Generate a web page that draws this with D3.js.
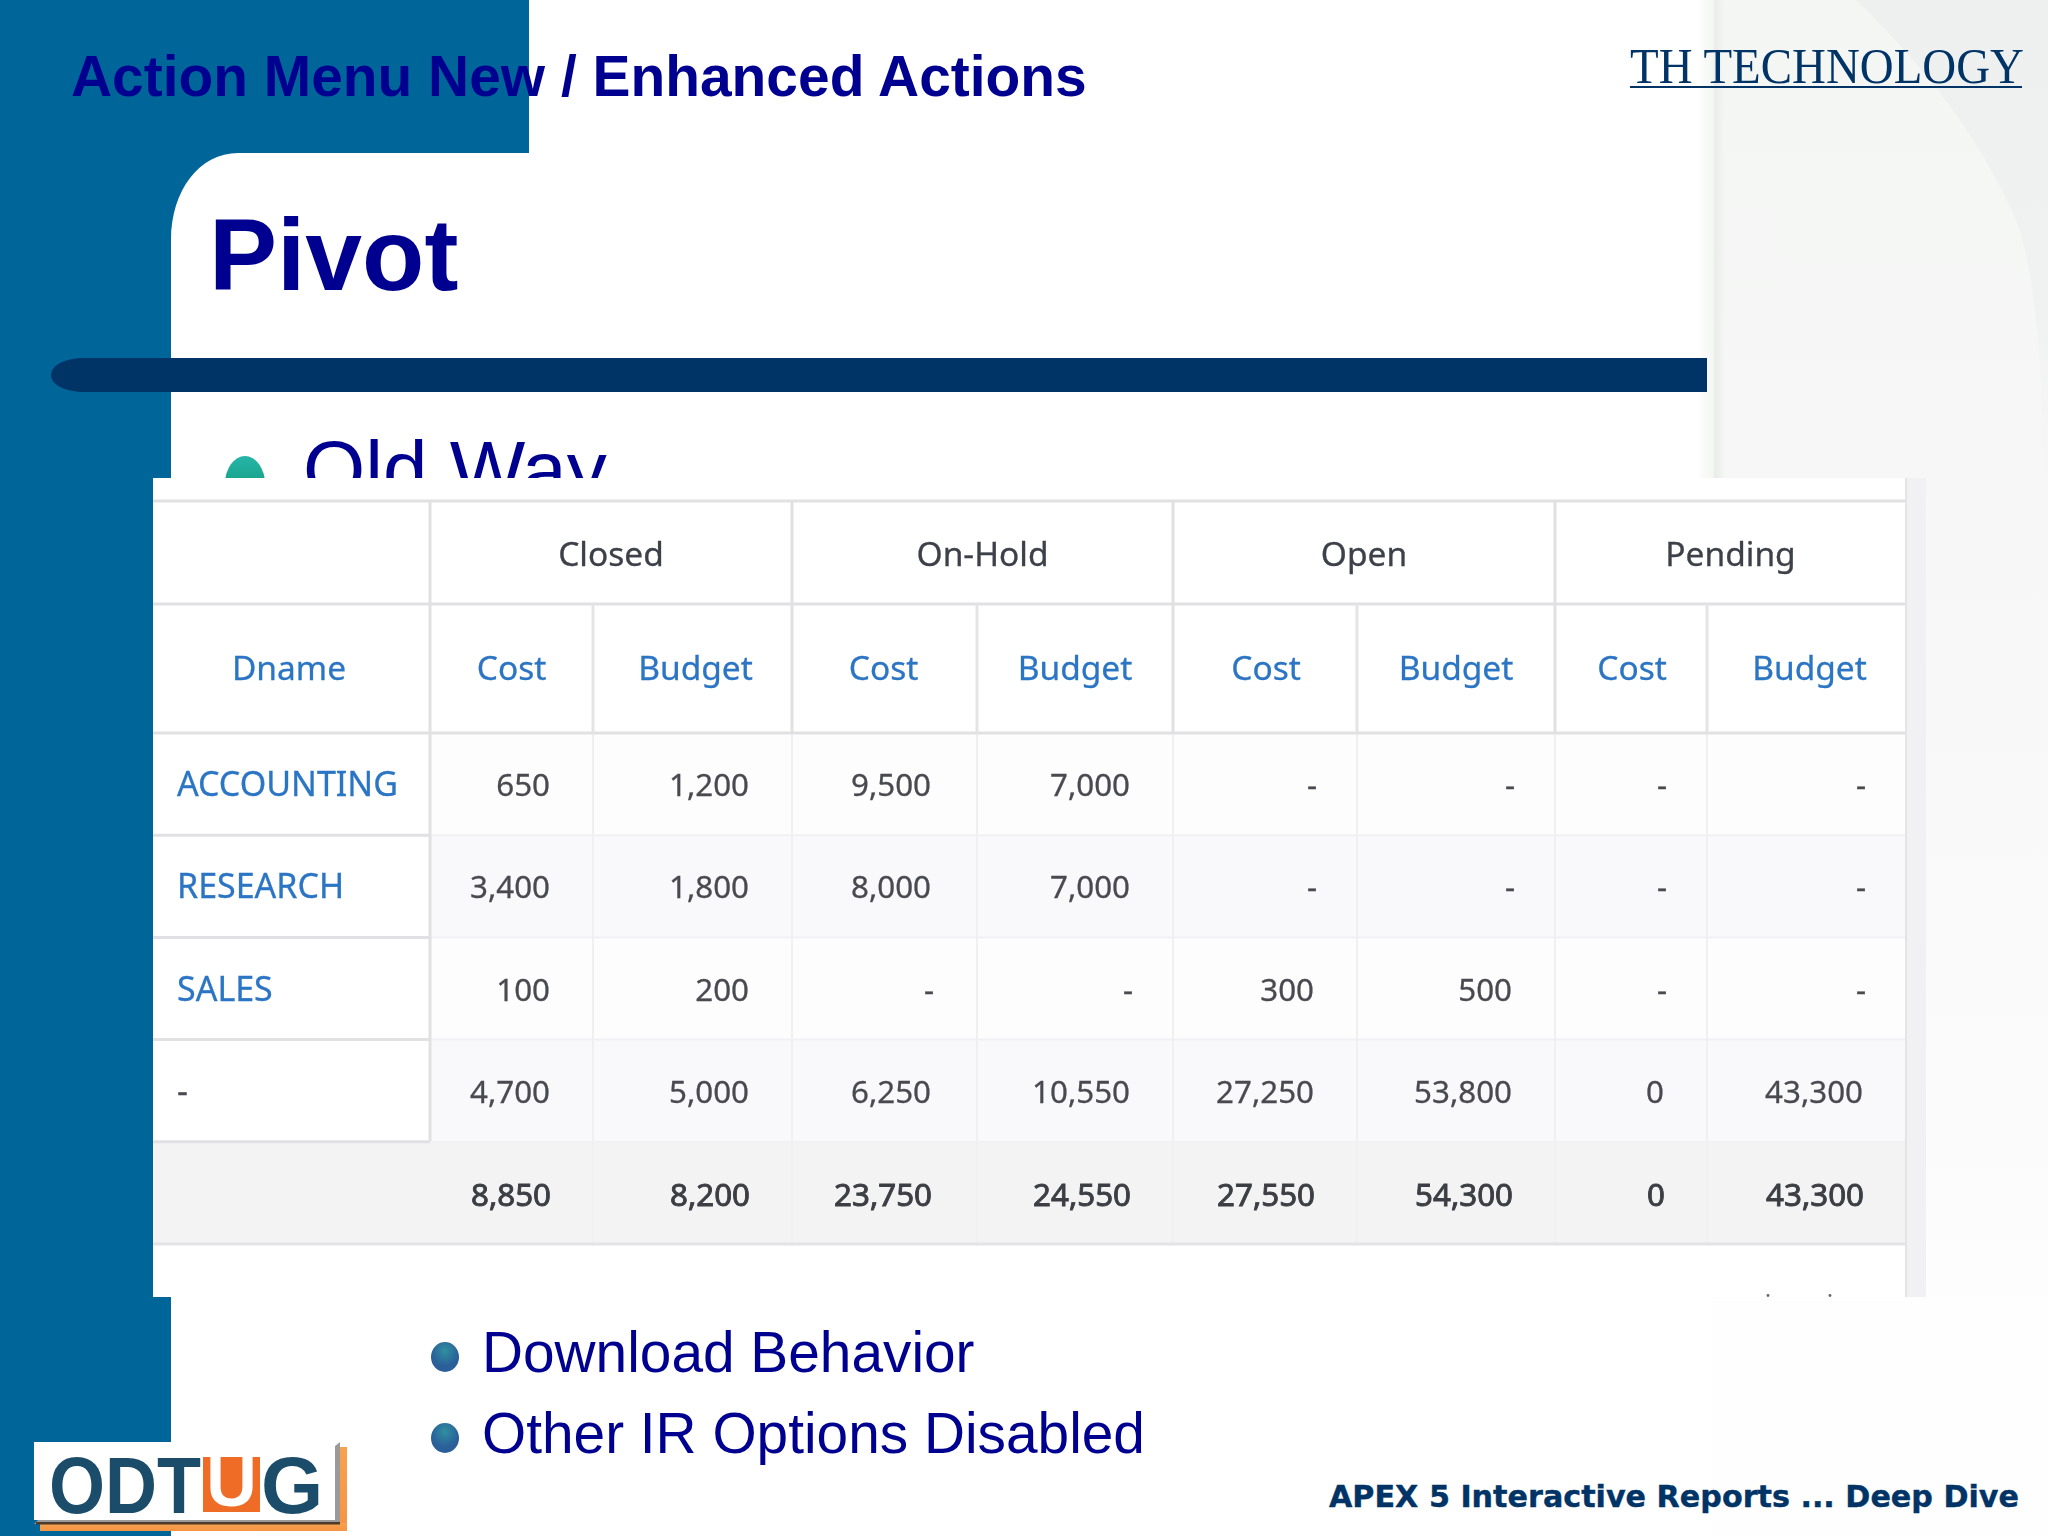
<!DOCTYPE html>
<html><head><meta charset="utf-8">
<script src="https://cdn.jsdelivr.net/npm/d3@7"></script>
<style>html,body{margin:0;padding:0;background:#fff;overflow:hidden}svg{display:block}</style>
</head><body><svg id="c" width="2048" height="1536" xmlns="http://www.w3.org/2000/svg"></svg>
<script>
const groups = ["Closed","On-Hold","Open","Pending"];
const measures = ["Cost","Budget"];
const departments = ["ACCOUNTING","RESEARCH","SALES","-"];
const closedCost    = [650,3400,100,4700];
const closedBudget  = [1200,1800,200,5000];
const onHoldCost    = [9500,8000,null,6250];
const onHoldBudget  = [7000,7000,null,10550];
const openCost      = [null,null,300,27250];
const openBudget    = [null,null,500,53800];
const pendingCost   = [null,null,null,0];
const pendingBudget = [null,null,null,43300];
const totals = [8850,8200,23750,24550,27550,54300,0,43300];
const title = "Action Menu New / Enhanced Actions";
const heading = "Pivot";
const bullets = ["Download Behavior","Other IR Options Disabled"];

const series = [closedCost,closedBudget,onHoldCost,onHoldBudget,openCost,openBudget,pendingCost,pendingBudget];
const svg = d3.select("#c");
const defs = svg.append("defs");
const BLUE="#006699", NAVY="#003366", TITLE="#000090", LINK="#2b74c4", CELL="#484a50";

function grad(id,stops,h){const g=defs.append("linearGradient").attr("id",id).attr("x1",0).attr("y1",0).attr("x2",h?1:0).attr("y2",h?0:1);
  stops.forEach(s=>g.append("stop").attr("offset",s[0]).attr("stop-color",s[1]).attr("stop-opacity",s[2]===undefined?1:s[2]));}
grad("bgV",[[0,"#f4f6f4"],[0.35,"#f6f7f6"],[0.8,"#fcfcfc"],[0.86,"#fefefe"],[1,"#fefefe"]]);
grad("arcV",[[0,"#eef0ef"],[0.6,"#f0f2f1"],[1,"#f5f6f5",0]]);
grad("fringe",[[0,"#fbfcfb"],[0.55,"#f4f6f4"],[0.62,"#e9ebe9"],[1,"#f4f6f4"]],true);
grad("orange",[[0,"#f7a24e"],[1,"#f59445"]]);
defs.append("filter").attr("id","soft").append("feGaussianBlur").attr("stdDeviation",0.6);
defs.append("clipPath").attr("id","clipTop").append("rect").attr("x",0).attr("y",0).attr("width",2048).attr("height",478);
const rg=defs.append("radialGradient").attr("id","ball").attr("cy",0.3);
rg.append("stop").attr("offset",0).attr("stop-color","#2f8f9e");rg.append("stop").attr("offset",1).attr("stop-color","#2a5f9a");
const rg2=defs.append("linearGradient").attr("id","gem").attr("x1",0).attr("x2",0).attr("y1",0).attr("y2",1);
rg2.append("stop").attr("offset",0).attr("stop-color","#25b5a8");rg2.append("stop").attr("offset",0.7).attr("stop-color","#139a7c");rg2.append("stop").attr("offset",1).attr("stop-color","#0d5a40");

// page background
svg.append("rect").attr("width",2048).attr("height",1536).attr("fill","#fff");
svg.append("rect").attr("x",1713).attr("y",0).attr("width",335).attr("height",1536).attr("fill","url(#bgV)");
svg.append("rect").attr("x",1700).attr("y",0).attr("width",24).attr("height",1297).attr("fill","url(#fringe)").attr("opacity",0.95);
svg.append("path").attr("d","M1856,0 Q1970,110 2018,225 Q2046,310 2042,520 L2048,520 L2048,0 Z").attr("fill","url(#arcV)");

// blue frame
svg.append("path").attr("fill",BLUE)
  .attr("d","M0,0 H529 V153 H238 C200,153 171,190 171,240 V1536 H0 Z");

// title bar
svg.append("path").attr("fill",NAVY).attr("d","M1707,358 V392 H85 C65,392 51,385 51,375 C51,365 65,358 85,358 Z");

// titles
svg.append("text").text(title).attr("x",71).attr("y",96).attr("font-family","Liberation Sans").attr("font-weight",700).attr("font-size",56.9).attr("fill",TITLE);
svg.append("text").text(heading).attr("x",209).attr("y",290).attr("font-family","Liberation Sans").attr("font-weight",700).attr("font-size",102).attr("fill",TITLE);

// TH TECHNOLOGY mark
svg.append("text").text("TH TECHNOLOGY").attr("transform","translate(1630,83) scale(0.92,1)").attr("font-family","Liberation Serif").attr("font-size",51).attr("fill",NAVY);
svg.append("rect").attr("x",1630).attr("y",86).attr("width",392).attr("height",2).attr("fill",NAVY);

// clipped "Old Way" bullet
const old=svg.append("g").attr("clip-path","url(#clipTop)");
old.append("ellipse").attr("cx",245).attr("cy",484).attr("rx",20).attr("ry",28).attr("fill","url(#gem)");
old.append("text").text("Old Way").attr("x",303).attr("y",497).attr("font-family","Liberation Sans").attr("font-size",80).attr("fill",TITLE);

// table panel
svg.append("rect").attr("x",153).attr("y",478).attr("width",1754).attr("height",819).attr("fill","#fff");
svg.append("rect").attr("x",1907).attr("y",478).attr("width",19).attr("height",819).attr("fill","#f1f1f3");

// scales: column edges and row bands
const colKeys=d3.range(9);
const xEdge=d3.scaleOrdinal().domain(colKeys).range([153,430,593,792,977,1173,1357,1555,1707]);
const xEnd=1906;
const edge=i=>i===9?xEnd:xEdge(i);
const yHead=d3.scaleOrdinal().domain(["group","measure","body"]).range([501,604,733]);
const yRow=d3.scaleBand().domain(d3.range(5)).range([733,1244]);
const fmt=d3.format(",");

const t=svg.append("g");
// row backgrounds
t.selectAll("rect.r").data(d3.range(5)).join("rect").attr("class","r")
 .attr("x",i=>i===4?edge(0):edge(1)).attr("width",i=>i===4?xEnd-edge(0):xEnd-edge(1))
 .attr("y",i=>yRow(i)).attr("height",yRow.bandwidth())
 .attr("fill",i=>i===4?"#f3f3f4":(i%2?"#f9f9fb":"#fdfdfe"));

const hline=(x1,x2,y,c,w)=>t.append("line").attr("x1",x1).attr("x2",x2).attr("y1",y).attr("y2",y).attr("stroke",c).attr("stroke-width",w);
const vline=(x,y1,y2,c,w)=>t.append("line").attr("x1",x).attr("x2",x).attr("y1",y1).attr("y2",y2).attr("stroke",c).attr("stroke-width",w);

// body grid
d3.range(1,5).forEach(i=>hline(edge(1),xEnd,yRow(i),"#f1f1f3",2));
d3.range(2,9).forEach(i=>vline(edge(i),733,1244,"#f0f0f3",2));
d3.range(1,5).forEach(i=>hline(edge(0),edge(1),yRow(i),"#e1e1e4",3));
// header grid
hline(edge(0),xEnd,yHead("group"),"#e1e1e4",3);
hline(edge(0),xEnd,yHead("measure"),"#e1e1e4",3);
hline(edge(0),xEnd,yHead("body"),"#e1e1e4",3);
hline(edge(0),xEnd,1244,"#e3e3e6",3);
[1,3,5,7].forEach(i=>vline(edge(i),501,733,"#e1e1e4",3));
[2,4,6,8].forEach(i=>vline(edge(i),604,733,"#e4e4e7",3));
vline(edge(1),733,1141,"#e1e1e4",3);
vline(xEnd,478,1297,"#e4e4e7",2);

// table text
const tx=svg.append("g").attr("font-family","Noto Sans").attr("filter","url(#soft)");
const mid=(a,b)=>(a+b)/2;
const labelSize=33.5, deptSize=34, numSize=31.3;
tx.selectAll("text.g").data(groups).join("text").attr("class","g").text(d=>d)
 .attr("x",(d,i)=>mid(edge(1+2*i),edge(3+2*i))).attr("y",566).attr("text-anchor","middle")
 .attr("font-size",labelSize).attr("fill","#3c4049").attr("stroke","#3c4049").attr("stroke-width",0.3);
tx.append("text").text("Dname").attr("x",289).attr("y",680).attr("text-anchor","middle").attr("font-size",labelSize).attr("fill",LINK).attr("stroke",LINK).attr("stroke-width",0.3);
const measureNudge=[0,3,-1,0,1,0,1,3];
const mh=d3.range(8).map(i=>({i,label:measures[i%2]}));
tx.selectAll("text.m").data(mh).join("text").attr("class","m").text(d=>d.label)
 .attr("x",d=>mid(edge(d.i+1),edge(d.i+2))+measureNudge[d.i]).attr("y",680).attr("text-anchor","middle")
 .attr("font-size",labelSize).attr("fill",LINK).attr("stroke",LINK).attr("stroke-width",0.3);
tx.selectAll("text.d").data(departments).join("text").attr("class","d").text(d=>d)
 .attr("x",177).attr("y",(d,i)=>yRow(i)+yRow.bandwidth()/2+12)
 .attr("font-size",deptSize).attr("fill",(d,i)=>i<3?LINK:CELL).attr("stroke",(d,i)=>i<3?LINK:CELL).attr("stroke-width",0.3);
const rightInset=[43,43,46,43,43,43,43,43];
series.forEach((vals,c)=>{
  tx.selectAll("text.c"+c).data(vals).join("text").attr("class","c"+c)
   .text(v=>v===null?"-":fmt(v))
   .attr("x",v=>edge(c+2)-rightInset[c]+(v===null?3:0)).attr("y",(v,i)=>yRow(i)+yRow.bandwidth()/2+12)
   .attr("text-anchor","end").attr("font-size",numSize).attr("fill",CELL).attr("stroke",CELL).attr("stroke-width",0.3);
});
tx.selectAll("text.tot").data(totals).join("text").attr("class","tot").text(fmt)
 .attr("x",(v,c)=>edge(c+2)-rightInset[c]+1).attr("y",yRow(4)+yRow.bandwidth()/2+13)
 .attr("text-anchor","end").attr("font-size",numSize).attr("fill","#3c3e44").attr("stroke","#3c3e44").attr("stroke-width",0.9);

// clipped remnants at the bottom of the panel
svg.selectAll("circle.rem").data([1768,1830]).join("circle").attr("class","rem").attr("cx",d=>d).attr("cy",1295.5).attr("r",1.4).attr("fill","#666");

// lower bullets
bullets.forEach((b,i)=>{
  const by=[1357,1438][i], ty=[1372,1453][i];
  svg.append("ellipse").attr("cx",445).attr("cy",by).attr("rx",14).attr("ry",15).attr("fill","url(#ball)");
  svg.append("text").text(b).attr("x",482).attr("y",ty).attr("font-family","Liberation Sans").attr("font-size",56.8).attr("fill",TITLE);
});

// footer
svg.append("text").text("APEX 5 Interactive Reports ... Deep Dive").attr("x",1329).attr("y",1507)
 .attr("font-family","DejaVu Sans").attr("font-weight",700).attr("font-size",30)
 .attr("textLength",690).attr("lengthAdjust","spacingAndGlyphs").attr("fill",NAVY).attr("stroke",NAVY).attr("stroke-width",0.4);

// ODTUG logo
const L=svg.append("g");
L.append("rect").attr("x",339).attr("y",1447).attr("width",8).attr("height",84).attr("fill","url(#orange)");
L.append("rect").attr("x",40).attr("y",1523).attr("width",307).attr("height",8).attr("fill","url(#orange)");
L.append("rect").attr("x",34).attr("y",1442).attr("width",301).attr("height",78).attr("fill","#fff");
L.append("path").attr("d","M335,1446 L340,1442 V1524 H34 L38,1520 H335 Z").attr("fill","#9a9a9a");
L.append("rect").attr("x",36).attr("y",1522).attr("width",304).attr("height",2.5).attr("fill","#4d3a2a");
L.append("rect").attr("x",203).attr("y",1457).attr("width",57).attr("height",55).attr("fill","#ef6c26");
const lg=L.append("g").attr("font-family","Liberation Sans").attr("font-weight",700);
lg.append("text").text("ODT").attr("transform","translate(49,1513) scale(0.9,1)").attr("font-size",80).attr("fill","#1b4d6b");
lg.append("text").text("U").attr("x",231.5).attr("y",1506).attr("text-anchor","middle").attr("font-size",70).attr("fill","#fff");
lg.append("text").text("G").attr("x",261).attr("y",1513).attr("font-size",80).attr("fill","#1b4d6b");
</script></body></html>
